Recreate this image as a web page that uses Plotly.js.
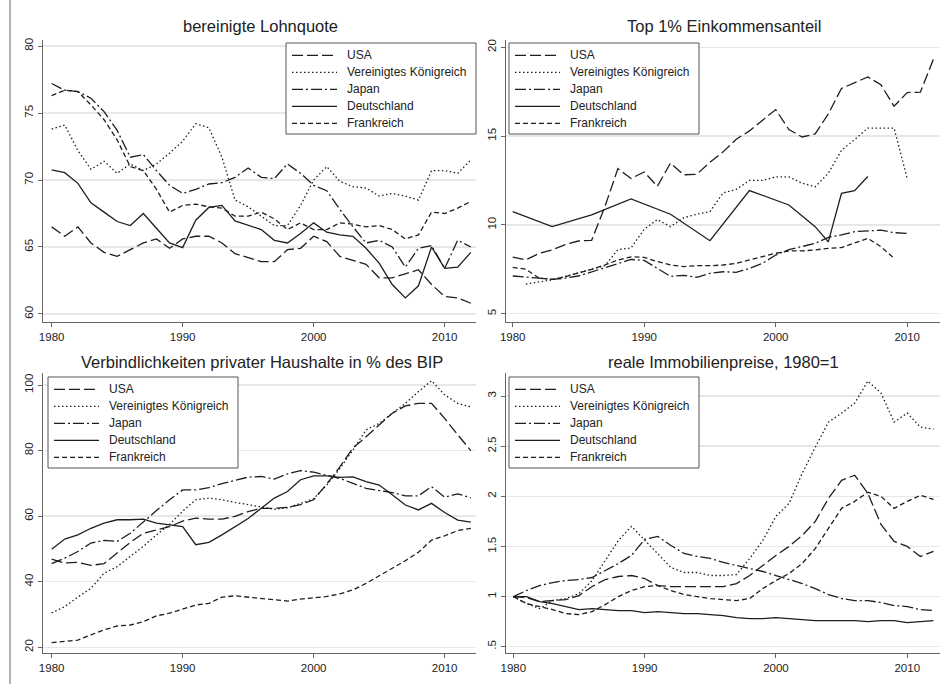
<!DOCTYPE html>
<html><head><meta charset="utf-8">
<script src="https://cdn.plot.ly/plotly-3.0.1.min.js"></script>
<style>html,body{margin:0;padding:0;background:#fff}#chart{width:943px;height:684px}</style>
</head><body><div id="chart"></div>
<script>
const years = [1980,1981,1982,1983,1984,1985,1986,1987,1988,1989,1990,1991,1992,1993,1994,1995,1996,1997,1998,1999,2000,2001,2002,2003,2004,2005,2006,2007,2008,2009,2010,2011,2012];
const countries = ["USA","Vereinigtes Königreich","Japan","Deutschland","Frankreich"];
const panelTitles = ["bereinigte Lohnquote","Top 1% Einkommensanteil","Verbindlichkeiten privater Haushalte in % des BIP","reale Immobilienpreise, 1980=1"];

// bereinigte Lohnquote
const lohnUSA = [66.5,65.8,66.5,65.3,64.6,64.3,64.8,65.3,65.6,64.9,65.6,65.8,65.8,65.3,64.5,64.2,63.9,63.9,64.8,64.9,65.8,65.4,64.3,64.0,63.7,62.7,62.7,63.0,63.3,62.2,61.3,61.2,60.8];
const lohnUK  = [73.8,74.1,72.2,70.8,71.4,70.5,71.2,70.7,71.2,72.0,72.9,74.2,73.9,71.7,68.5,68.0,67.3,66.6,66.6,68.1,70.0,71.0,69.9,69.5,69.4,68.8,69.0,68.8,68.5,70.7,70.7,70.5,71.5];
const lohnJPN = [77.2,76.7,76.6,76.1,75.1,73.7,71.7,71.9,70.7,69.6,69.0,69.3,69.7,69.8,70.2,70.9,70.2,70.1,71.2,70.5,69.6,69.2,67.8,66.5,65.3,65.5,65.0,63.5,64.9,65.1,63.4,65.5,65.0];
const lohnDEU = [70.75,70.55,69.75,68.3,67.6,66.9,66.6,67.5,66.4,65.3,64.95,67.0,67.95,68.1,66.95,66.6,66.3,65.5,65.3,66.0,66.8,66.1,65.9,65.8,64.9,63.8,62.2,61.2,62.1,65.0,63.4,63.5,64.6];
const lohnFRA = [76.3,76.7,76.6,75.6,74.5,73.0,71.0,70.7,69.3,67.6,68.1,68.2,68.0,67.9,67.3,67.3,67.6,67.1,66.3,66.8,66.3,66.3,66.8,66.7,66.5,66.6,66.3,65.6,65.9,67.6,67.5,67.9,68.4];

// Top 1% Einkommensanteil
const topUSA = [8.18,8.03,8.39,8.59,8.89,9.09,9.13,11.0,13.17,12.61,12.98,12.17,13.48,12.82,12.85,13.53,14.11,14.82,15.29,15.87,16.49,15.37,14.95,15.12,16.25,17.68,18.0,18.33,17.89,16.68,17.45,17.47,19.34];
const topUK  = [null,6.67,6.8,6.9,7.1,7.3,7.5,7.7,8.6,8.7,9.75,10.3,9.9,10.4,10.6,10.75,11.8,12.0,12.5,12.5,12.7,12.7,12.35,12.15,12.9,14.2,14.8,15.45,15.45,15.45,12.6,null,null];
const topJPN = [7.12,7.08,7.0,6.93,7.0,7.12,7.35,7.6,7.8,8.05,8.0,7.55,7.1,7.15,7.05,7.27,7.36,7.33,7.55,7.84,8.3,8.6,8.77,8.96,9.3,9.43,9.62,9.65,9.7,9.56,9.52,null,null];
const topFRA = [7.61,7.5,7.0,6.93,7.08,7.27,7.5,7.74,8.02,8.2,8.17,7.93,7.74,7.65,7.7,7.7,7.74,7.83,8.02,8.2,8.4,8.53,8.53,8.59,8.68,8.72,8.96,9.24,8.77,8.12,null,null,null];
const topDEUyears = [1980,1983,1986,1989,1992,1995,1998,2001,2003,2004,2005,2006,2007];
const topDEU = [10.75,9.9,10.56,11.46,10.6,9.11,11.93,11.12,9.9,9.04,11.78,11.93,12.72];

// Verbindlichkeiten privater Haushalte in % des BIP
const debtUSA = [46.9,45.7,45.9,45.0,45.5,48.7,52.0,54.8,55.8,56.8,58.5,59.4,59.1,59.1,59.9,61.4,62.4,62.4,62.7,63.5,65.0,69.8,75.0,80.8,84.2,87.8,91.4,93.6,94.4,94.4,89.8,84.8,80.0];
const debtUK  = [30.5,32.4,35.3,38.0,42.6,44.6,47.7,50.8,54.3,57.5,61.5,65.0,65.5,65.0,64.2,63.5,62.7,62.1,62.5,63.8,65.3,69.5,74.5,80.2,86.3,88.3,91.4,94.4,98.0,101.3,97.0,94.4,93.3];
const debtJPN = [45.5,47.2,49.2,51.8,52.6,52.3,54.8,58.4,61.7,65.0,68.0,68.0,68.7,69.9,70.9,71.9,72.1,71.3,72.9,73.9,73.4,72.4,71.5,70.0,68.5,67.8,67.2,66.2,66.2,69.0,65.8,66.8,65.6];
const debtDEU = [49.9,53.0,54.3,56.3,57.9,58.9,58.9,59.1,57.9,57.4,56.8,51.3,52.0,54.3,56.8,59.3,62.4,65.5,67.5,71.1,72.3,72.3,71.8,72.0,70.5,69.5,66.5,63.4,61.9,63.9,61.1,58.8,58.2];
const debtFRA = [21.4,21.7,22.2,23.8,25.3,26.5,26.8,27.8,29.6,30.4,31.6,32.9,33.4,35.3,35.7,35.3,35.0,34.5,34.1,34.7,35.0,35.5,36.3,37.5,39.5,41.8,44.1,46.4,49.0,52.7,54.0,55.6,56.3];

// reale Immobilienpreise, 1980=1
const hpUSA = [1.0,0.99,0.95,0.96,0.97,1.01,1.10,1.17,1.20,1.21,1.18,1.11,1.10,1.10,1.10,1.10,1.10,1.13,1.21,1.31,1.41,1.50,1.61,1.75,1.98,2.16,2.21,2.03,1.72,1.55,1.50,1.40,1.45];
const hpUK  = [1.0,0.93,0.88,0.96,0.98,1.03,1.16,1.36,1.56,1.70,1.56,1.43,1.29,1.24,1.24,1.21,1.21,1.22,1.38,1.56,1.80,1.93,2.23,2.49,2.74,2.83,2.93,3.15,3.03,2.74,2.83,2.69,2.67];
const hpJPN = [1.0,1.06,1.11,1.14,1.16,1.17,1.19,1.26,1.33,1.41,1.57,1.60,1.51,1.43,1.40,1.38,1.34,1.31,1.28,1.25,1.21,1.17,1.13,1.08,1.02,0.98,0.96,0.96,0.94,0.91,0.90,0.87,0.86];
const hpDEU = [1.0,1.0,0.95,0.93,0.90,0.87,0.88,0.87,0.86,0.86,0.84,0.85,0.84,0.83,0.83,0.82,0.81,0.79,0.78,0.78,0.79,0.78,0.77,0.76,0.76,0.76,0.76,0.75,0.76,0.76,0.74,0.75,0.76];
const hpFRA = [1.0,0.93,0.90,0.87,0.83,0.82,0.85,0.92,1.0,1.06,1.10,1.11,1.06,1.02,1.0,0.98,0.97,0.96,0.98,1.08,1.16,1.23,1.33,1.48,1.68,1.88,1.95,2.04,2.0,1.88,1.95,2.01,1.97];

const xTicks = [1980,1990,2000,2010];
const yTicks1 = [60,65,70,75,80];
const yTicks2 = [5,10,15,20];
const yTicks3 = [20,40,60,80,100];
const yTicks4 = [0.5,1,1.5,2,2.5,3];
const yTickText4 = [".5","1","1.5","2","2.5","3"];

const W = 943, H = 684;
const px = v => v / W;
const py = v => 1 - v / H;
const FONT = "Liberation Sans, Arial, sans-serif";
const LC = "#1e1e1e";
const dashes = ["11px,4px", "1.5px,2.5px", "11px,3px,2px,3px", "solid", "5px,3px"];

const traces = [];
function addPanel(idx, seriesList, xList) {
  const ax = idx === 1 ? "" : String(idx);
  seriesList.forEach((vals, i) => {
    traces.push({
      type: "scatter", mode: "lines",
      x: xList[i], y: vals,
      name: countries[i],
      xaxis: "x" + ax, yaxis: "y" + ax,
      showlegend: false,
      connectgaps: false,
      line: {color: LC, width: 1.3, dash: dashes[i]},
      hoverinfo: "skip"
    });
  });
}
addPanel(1, [lohnUSA, lohnUK, lohnJPN, lohnDEU, lohnFRA], [years, years, years, years, years]);
addPanel(2, [topUSA, topUK, topJPN, topDEU, topFRA], [years, years, years, topDEUyears, years]);
addPanel(3, [debtUSA, debtUK, debtJPN, debtDEU, debtFRA], [years, years, years, years, years]);
addPanel(4, [hpUSA, hpUK, hpJPN, hpDEU, hpFRA], [years, years, years, years, years]);

function xax(l, r, yr0, ppy, anchor) {
  return {
    domain: [px(l), px(r)],
    range: [yr0, yr0 + (r - l) / ppy],
    tickvals: xTicks, ticks: "outside", ticklen: 4, tickwidth: 1, tickcolor: "#666",
    showline: true, linecolor: "#666", linewidth: 1.2,
    showgrid: false, zeroline: false, anchor: anchor,
    tickfont: {family: FONT, size: 11.5, color: "#222"}
  };
}
function yax(top, bot, range, tv, tt, anchor) {
  const a = {
    domain: [py(bot), py(top)], range: range,
    tickvals: tv, ticks: "outside", ticklen: 4, tickwidth: 1, tickcolor: "#666",
    tickangle: -90,
    showline: true, linecolor: "#666", linewidth: 1.2,
    showgrid: true, gridcolor: "#e7e7e7", gridwidth: 1.5,
    zeroline: false, anchor: anchor,
    tickfont: {family: FONT, size: 11.5, color: "#222"}
  };
  if (tt) a.ticktext = tt;
  return a;
}
function title(t, cx, cy) {
  return {text: t, x: px(cx), y: py(cy), xref: "paper", yref: "paper",
    xanchor: "center", yanchor: "middle", showarrow: false,
    font: {family: FONT, size: 16.5, color: "#222"}};
}

const annotations = [
  title(panelTitles[0], 260, 26),
  title(panelTitles[1], 724, 26),
  title(panelTitles[2], 262, 362),
  title(panelTitles[3], 723, 362)
];
const shapes = [
  {type: "line", xref: "paper", yref: "paper", x0: px(10), x1: px(10), y0: 0, y1: 1,
   line: {color: "#999", width: 1.5}}
];

// legend boxes (left, top) in pixels
const legendBoxes = [[286, 43], [509, 43], [48, 377], [509, 377]];
legendBoxes.forEach(([lx, ty]) => {
  shapes.push({type: "rect", xref: "paper", yref: "paper",
    x0: px(lx), x1: px(lx + 190), y0: py(ty + 91), y1: py(ty),
    fillcolor: "#fff", line: {color: "#555", width: 1}, layer: "above"});
  countries.forEach((c, i) => {
    const yy = ty + 12.3 + 17 * i;
    shapes.push({type: "line", xref: "paper", yref: "paper",
      x0: px(lx + 6), x1: px(lx + 51), y0: py(yy), y1: py(yy),
      line: {color: LC, width: 1.3, dash: dashes[i]}, layer: "above"});
    annotations.push({text: c, x: px(lx + 59), y: py(yy), xref: "paper", yref: "paper",
      xanchor: "left", yanchor: "middle", showarrow: false,
      font: {family: FONT, size: 12, color: "#222"}});
  });
});

const layout = {
  width: W, height: H,
  margin: {l: 0, r: 0, t: 0, b: 0},
  paper_bgcolor: "#fff", plot_bgcolor: "#fff",
  font: {family: FONT, color: "#222"},
  showlegend: false,
  xaxis:  xax(43, 476, 1979.34, 13.1, "y"),
  yaxis:  yax(40, 322, [59.4, 80.45], yTicks1, null, "x"),
  xaxis2: xax(506, 940, 1979.49, 13.15, "y2"),
  yaxis2: yax(40, 322, [4.53, 20.41], yTicks2, null, "x2"),
  xaxis3: xax(43, 476, 1979.34, 13.1, "y3"),
  yaxis3: yax(373, 653, [18.26, 103.66], yTicks3, null, "x3"),
  xaxis4: xax(506, 940, 1979.44, 13.13, "y4"),
  yaxis4: yax(373, 653, [0.437, 3.23], yTicks4, yTickText4, "x4"),
  annotations: annotations,
  shapes: shapes
};

Plotly.newPlot("chart", traces, layout, {staticPlot: true, displayModeBar: false});
</script>
</body></html>
